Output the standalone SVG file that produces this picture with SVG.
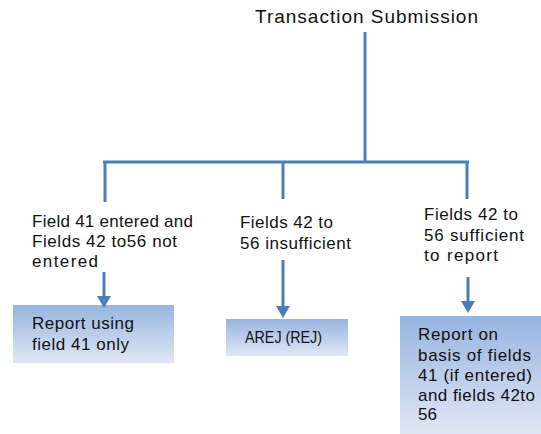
<svg xmlns="http://www.w3.org/2000/svg" width="541" height="434" viewBox="0 0 541 434">
  <style>
    text { font-family: "Liberation Sans", Arial, sans-serif; fill: #111; }
    .t { font-size: 17px; }
    .title { font-size: 19px; }
    .line { stroke: #4A7EBB; stroke-width: 3; fill: none; }
    .box { fill: url(#g); }
  </style>
  <defs>
    <linearGradient id="g" x1="0" y1="0" x2="0" y2="1">
      <stop offset="0" stop-color="#97B4E0"/>
      <stop offset="1" stop-color="#E0E7F5"/>
    </linearGradient>
    <marker id="ah" markerUnits="userSpaceOnUse" markerWidth="12" markerHeight="14" viewBox="0 0 12 14" refX="0" refY="7" orient="auto">
      <path d="M0,0 L12,7 L0,14 Z" fill="#4A7EBB"/>
    </marker>
  </defs>

  <g id="title">
    <text class="title" x="255" y="23" textLength="223" lengthAdjust="spacing">Transaction Submission</text>
  </g>

  <g id="cond-left">
    <text class="t" x="32" y="227" textLength="161" lengthAdjust="spacing">Field 41 entered and</text>
    <text class="t" x="32" y="247" textLength="145" lengthAdjust="spacing">Fields 42 to56 not</text>
    <text class="t" x="32" y="267" textLength="66" lengthAdjust="spacing">entered</text>
  </g>

  <g id="cond-middle">
    <text class="t" x="240" y="228" textLength="93" lengthAdjust="spacing">Fields 42 to</text>
    <text class="t" x="240" y="249" textLength="111" lengthAdjust="spacing">56 insufficient</text>
  </g>

  <g id="cond-right">
    <text class="t" x="424" y="220" textLength="94" lengthAdjust="spacing">Fields 42 to</text>
    <text class="t" x="424" y="241" textLength="100" lengthAdjust="spacing">56 sufficient</text>
    <text class="t" x="424" y="261" textLength="74" lengthAdjust="spacing">to report</text>
  </g>

  <g id="box-left">
    <rect class="box" x="13" y="305" width="161" height="58"/>
    <text class="t" x="32" y="329" textLength="102" lengthAdjust="spacing">Report using</text>
    <text class="t" x="32" y="350" textLength="97" lengthAdjust="spacing">field 41 only</text>
  </g>

  <g id="box-middle">
    <rect class="box" x="226" y="319" width="122" height="37"/>
    <text class="t" x="245" y="343" textLength="77" lengthAdjust="spacingAndGlyphs">AREJ (REJ)</text>
  </g>

  <g id="box-right">
    <rect class="box" x="400" y="316" width="141" height="118"/>
    <text class="t" x="418" y="340" textLength="80" lengthAdjust="spacing">Report on</text>
    <text class="t" x="418" y="361" textLength="113" lengthAdjust="spacing">basis  of fields</text>
    <text class="t" x="418" y="381" textLength="114" lengthAdjust="spacing">41 (if entered)</text>
    <text class="t" x="418" y="401" textLength="117" lengthAdjust="spacing">and fields 42to</text>
    <text class="t" x="418" y="420" textLength="19" lengthAdjust="spacing">56</text>
  </g>

  <g id="connectors">
    <path class="line" d="M365,32 V162"/>
    <path class="line" d="M103,162 H469"/>
    <path class="line" d="M105,162 V202"/>
    <path class="line" d="M283,162 V199"/>
    <path class="line" d="M467,162 V199"/>
    <path class="line" d="M104,272 V296" marker-end="url(#ah)"/>
    <path class="line" d="M283,260 V306" marker-end="url(#ah)"/>
    <path class="line" d="M468,277 V301" marker-end="url(#ah)"/>
  </g>
</svg>
